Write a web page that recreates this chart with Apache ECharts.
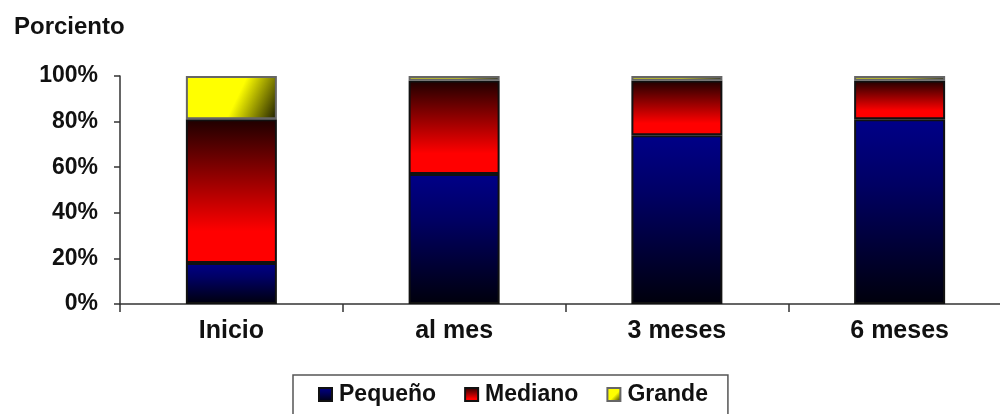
<!DOCTYPE html>
<html>
<head>
<meta charset="utf-8">
<script src="https://cdn.jsdelivr.net/npm/echarts@6/dist/echarts.min.js"></script>
<style>
  html, body { margin: 0; padding: 0; background: #fff; }
  #chart { width: 1000px; height: 414px; }
</style>
</head>
<body>
<div id="chart"></div>
<script>
// Tamaño por etapa de seguimiento (porcentaje de casos)
const categories = ['Inicio', 'al mes', '3 meses', '6 meses'];
const pequeno = [18, 57, 74, 81];
const mediano = [63, 41, 24, 17];
const grande  = [19, 2, 2, 2];
const yTicks  = [0, 20, 40, 60, 80, 100];

const FONT = '"Liberation Sans", Arial, sans-serif';

const gradNavy = {
  type: 'linear', x: 0, y: 0, x2: 0, y2: 1,
  colorStops: [
    { offset: 0, color: '#000088' },
    { offset: 0.35, color: '#000064' },
    { offset: 1, color: '#00000c' }
  ]
};
const gradRed = {
  type: 'linear', x: 0, y: 0, x2: 0, y2: 1,
  colorStops: [
    { offset: 0, color: '#1e0000' },
    { offset: 0.78, color: '#ff0000' },
    { offset: 1, color: '#ff0000' }
  ]
};
const gradYellow = {
  type: 'linear', x: 0, y: 0, x2: 1, y2: 1,
  colorStops: [
    { offset: 0, color: '#ffff00' },
    { offset: 0.55, color: '#ffff00' },
    { offset: 1, color: '#1a1a00' }
  ]
};

const chart = echarts.init(document.getElementById('chart'), null, { renderer: 'canvas' });

function barSeries(name, data, color, border) {
  return {
    name: name,
    type: 'bar',
    stack: 'total',
    barWidth: 91,
    data: data,
    itemStyle: { color: color, borderColor: border, borderWidth: 2 },
    emphasis: { disabled: true }
  };
}

chart.setOption({
  animation: false,
  backgroundColor: '#ffffff',
  title: {
    text: 'Porciento',
    left: 9,
    top: 10,
    textStyle: { fontFamily: FONT, fontWeight: 'bold', fontSize: 24, color: '#111' }
  },
  legend: {
    left: 293,
    top: 375,
    icon: 'rect',
    itemWidth: 13,
    itemHeight: 13,
    itemGap: 28,
    padding: [8, 20, 11, 25],
    borderColor: '#555',
    borderWidth: 1.5,
    textStyle: { fontFamily: FONT, fontWeight: 'bold', fontSize: 23, color: '#111', padding: [0, 0, 0, 2] },
    data: ['Pequeño', 'Mediano', 'Grande']
  },
  grid: { left: 120, top: 76, width: 891, height: 228, outerBoundsMode: 'none' },
  xAxis: {
    type: 'category',
    data: categories,
    axisLine: { lineStyle: { color: '#333', width: 1.5 } },
    axisTick: { show: true, length: 8, alignWithLabel: false, lineStyle: { color: '#333', width: 1.5 } },
    axisLabel: { margin: 15, fontFamily: FONT, fontWeight: 'bold', fontSize: 25, color: '#111' }
  },
  yAxis: {
    type: 'value',
    min: yTicks[0],
    max: yTicks[yTicks.length - 1],
    interval: yTicks[1] - yTicks[0],
    splitLine: { show: false },
    axisLine: { show: true, lineStyle: { color: '#333', width: 1.5 } },
    axisTick: { show: true, length: 6, lineStyle: { color: '#333', width: 1.5 } },
    axisLabel: { margin: 22, fontFamily: FONT, fontWeight: 'bold', fontSize: 23, color: '#111',
      formatter: v => v + '%' }
  },
  series: [
    barSeries('Pequeño', pequeno, gradNavy, '#111'),
    barSeries('Mediano', mediano, gradRed, '#111'),
    barSeries('Grande', grande, gradYellow, '#666')
  ]
});
</script>
</body>
</html>
